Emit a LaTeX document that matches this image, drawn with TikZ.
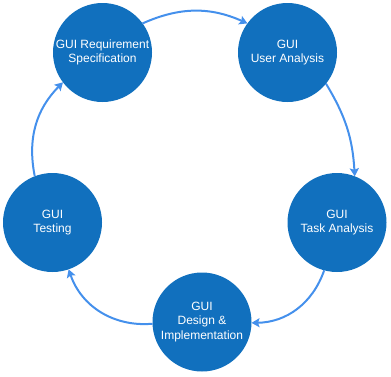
\documentclass[tikz,border=0pt]{standalone}
\usepackage{fontspec}
\setmainfont{Liberation Sans}
\usepackage{tikz}
\usetikzlibrary{arrows.meta}
\usepackage{xcolor}
\definecolor{stagefill}{HTML}{1170BE}
\definecolor{flowblue}{HTML}{4490EC}

\begin{document}
\begin{tikzpicture}[x=1pt, y=-1pt,
    stagebox/.style={circle, fill=stagefill, draw=none, text=white,
                     minimum size=99pt, inner sep=0pt, outer sep=0pt,
                     align=center, font=\fontsize{12}{14.2}\selectfont},
    arrow/.style={-{Stealth[length=8pt, width=9pt, inset=1.5pt]},
                  line width=2pt, flowblue}
]
    \useasboundingbox (0,0) rectangle (391,376);
    \node[stagebox] (req) at (102.5,52.5) {GUI Requirement\\Specification};
    \node[stagebox] (user) at (287.5,52.5) {GUI\\User Analysis};
    \node[stagebox] (task) at (337,222.5) {GUI\\Task Analysis};
    \node[stagebox] (design) at (202,322) {GUI\\Design \&\\Implementation};
    \node[stagebox] (testing) at (52.5,222.5) {GUI\\Testing};
    \draw[arrow] (req.36) to[bend left=24] (user.144);
    \draw[arrow] (user.-39) to[bend left=14] (task.69);
    \draw[arrow] (task.-105) to[bend left=35] (design.-1);
    \draw[arrow] (design.182) to[bend left=38] (testing.-71);
    \draw[arrow] (testing.111) to[bend left=28] (req.-143);
\end{tikzpicture}
\end{document}
